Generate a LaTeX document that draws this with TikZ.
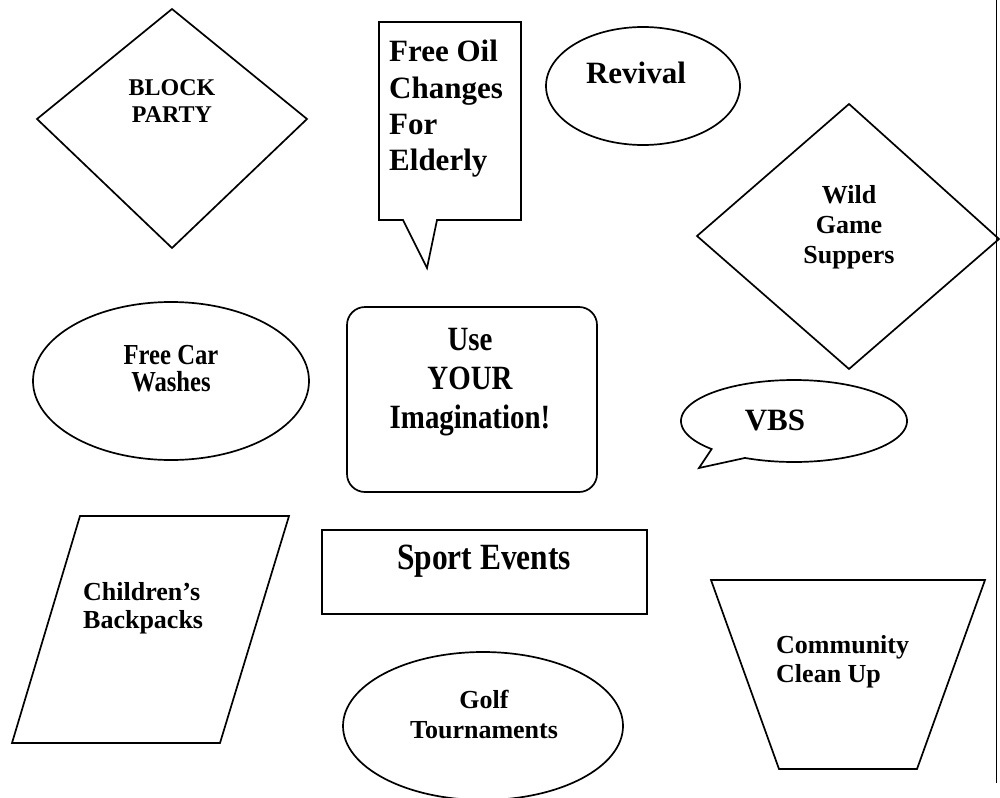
\documentclass[tikz,border=0pt]{standalone}
\usepackage{fontspec}
\setmainfont{Liberation Serif}
\newfontfamily\condfont{Liberation Serif}[FakeStretch=0.85]
\begin{document}
\begin{tikzpicture}[x=1pt,y=-1pt,
  outline/.style={draw=black, line width=1.7pt, line join=miter},
  lbl/.style={inner sep=0pt, align=center, anchor=base},
  lbll/.style={inner sep=0pt, align=left, anchor=base west}]
\useasboundingbox (0,0) rectangle (1000,797);
% right margin line
\coordinate (rt) at (996.5,0);
\coordinate (rb) at (996.5,783);
\draw[line width=1pt] (rt) -- (rb);
% BLOCK PARTY diamond
\draw[outline] (172,9) -- (307,119) -- (172,248) -- (37,119) -- cycle;
\node[lbl, font=\fontsize{24}{27}\selectfont\bfseries] (block) at (172,122) {BLOCK\\PARTY};
% Free Oil callout
\draw[outline] (379,22) -- (521,22) -- (521,220) -- (437,220) -- (427,268) -- (403,220) -- (379,220) -- cycle;
\node[lbll, font=\fontsize{31}{36}\selectfont\bfseries] (oil) at (389,170) {Free Oil\\Changes\\For\\Elderly};
% Revival
\draw[outline] (643,86) ellipse [x radius=97pt, y radius=59pt];
\node[lbl, font=\fontsize{31}{36}\selectfont\bfseries] (revival) at (636,84) {Revival};
% Wild Game Suppers
\draw[outline] (849,104) -- (999,239) -- (849,369) -- (697,236) -- cycle;
\node[lbl, font=\fontsize{26}{30}\selectfont\bfseries] (wild) at (849,263) {Wild\\Game\\Suppers};
% Free Car Washes
\draw[outline] (171,381) ellipse [x radius=138pt, y radius=79pt];
\node[lbl, font=\condfont\fontsize{29}{27}\selectfont\bfseries] (car) at (171,391) {Free Car\\Washes};
% Use YOUR Imagination
\draw[outline, rounded corners=18pt] (347,307) rectangle (597,492);
\node[lbl, font=\condfont\fontsize{34}{39}\selectfont\bfseries] (imag) at (470,428) {Use\\YOUR\\Imagination!};
% VBS callout
\draw[outline] plot[domain=136.8:475.7, samples=150] ({794+113*cos(\x)},{421+41*sin(\x)}) -- (699,468) -- cycle;
\node[lbl, font=\fontsize{31}{36}\selectfont\bfseries] (vbs) at (775,430) {VBS};
% Children's Backpacks
\draw[outline] (80,516) -- (289,516) -- (220,743) -- (12,743) -- cycle;
\node[lbll, font=\fontsize{26}{28}\selectfont\bfseries] (kids) at (83,628) {Children’s\\Backpacks};
% Sport Events
\draw[line width=2.5pt] (322,530) rectangle (647,614);
\node[lbl, font=\condfont\fontsize{37}{40}\selectfont\bfseries] (sport) at (484,569) {Sport Events};
% Golf Tournaments
\draw[outline] (483,726) ellipse [x radius=140pt, y radius=74pt];
\node[lbl, font=\fontsize{26}{30}\selectfont\bfseries] (golf) at (484,738) {Golf\\Tournaments};
% Community Clean Up
\draw[outline] (711,580) -- (985,580) -- (917,769) -- (779,769) -- cycle;
\node[lbll, font=\fontsize{26}{29}\selectfont\bfseries] (clean) at (776,682) {Community\\Clean Up};
\end{tikzpicture}
\end{document}
